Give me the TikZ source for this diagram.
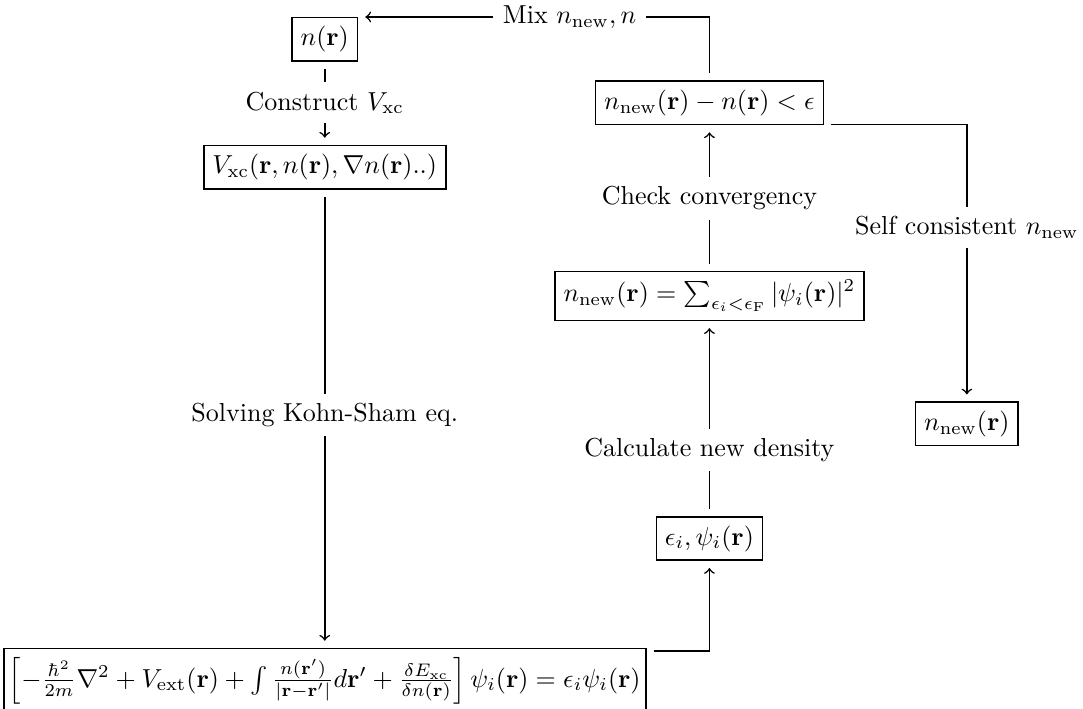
\documentclass[tikz,border=0pt]{standalone}
\usepackage{amsmath}

\begin{document}
\begin{tikzpicture}[semithick,mybox/.style={draw,outer sep=3pt}]
    \useasboundingbox (0,0) rectangle (14.64,-9.58);
    % left column
    \node[mybox] (nr) at(4.39,-0.53){$n(\mathbf{r})$};
    \node (construct) at(4.39,-1.39){Construct $V_{\rm xc}$};
    \node[mybox] (vxc) at(4.39,-2.26){$V_{\rm xc}(\mathbf{r},n(\mathbf{r}),\nabla n(\mathbf{r})..)$};
    \node (solving) at(4.39,-5.61){Solving Kohn-Sham eq.};
    \node[mybox,inner xsep=2pt] (ks) at(4.39,-9.2){$\left[-\frac{\hbar^2}{2m}\nabla^2+V_{\rm ext}(\mathbf{r})+\int\frac{n(\mathbf{r}')}{|\mathbf{r}-\mathbf{r}'|}d\mathbf{r}'+\frac{\delta E_{\rm xc}}{\delta n(\mathbf{r})}\right]\psi_i(\mathbf{r})=\epsilon_i\psi_i(\mathbf{r})$};
    % right column
    \node[mybox] (eps) at(9.59,-7.28){$\epsilon_i,\psi_i(\mathbf{r})$};
    \node (calc) at(9.59,-6.08){Calculate new density};
    \node[mybox] (nnew) at(9.59,-4.00){$n_{\rm new}(\mathbf{r})=\sum_{\epsilon_i<\epsilon_{\rm F}}|\psi_i(\mathbf{r})|^2$};
    \node (check) at(9.59,-2.68){Check convergency};
    \node[mybox] (conv) at(9.59,-1.39){$n_{\rm new}(\mathbf{r})-n(\mathbf{r})<\epsilon$};
    \node (mix) at(7.70,-0.23){Mix $n_{\rm new},n$};
    \node (selfc) at(13.07,-3.07){Self consistent $n_{\rm new}$};
    \node[mybox] (final) at(13.07,-5.73){$n_{\rm new}(\mathbf{r})$};
    % connectors
    \draw (nr)--(construct);
    \draw[->] (construct)--(vxc);
    \draw (vxc)--(solving);
    \draw[->] (solving)--(ks);
    \draw[->] ([yshift=-4pt]ks.north east) -| (eps);
    \draw (eps)--(calc);
    \draw[->] (calc)--(nnew);
    \draw (nnew)--(check);
    \draw[->] (check)--(conv);
    \draw (conv) |- (mix);
    \draw[->] (mix)--(mix -| nr.east);
    \draw ([yshift=3pt]conv.south east) -| (selfc);
    \draw[->] (selfc)--(final);
\end{tikzpicture}
\end{document}
